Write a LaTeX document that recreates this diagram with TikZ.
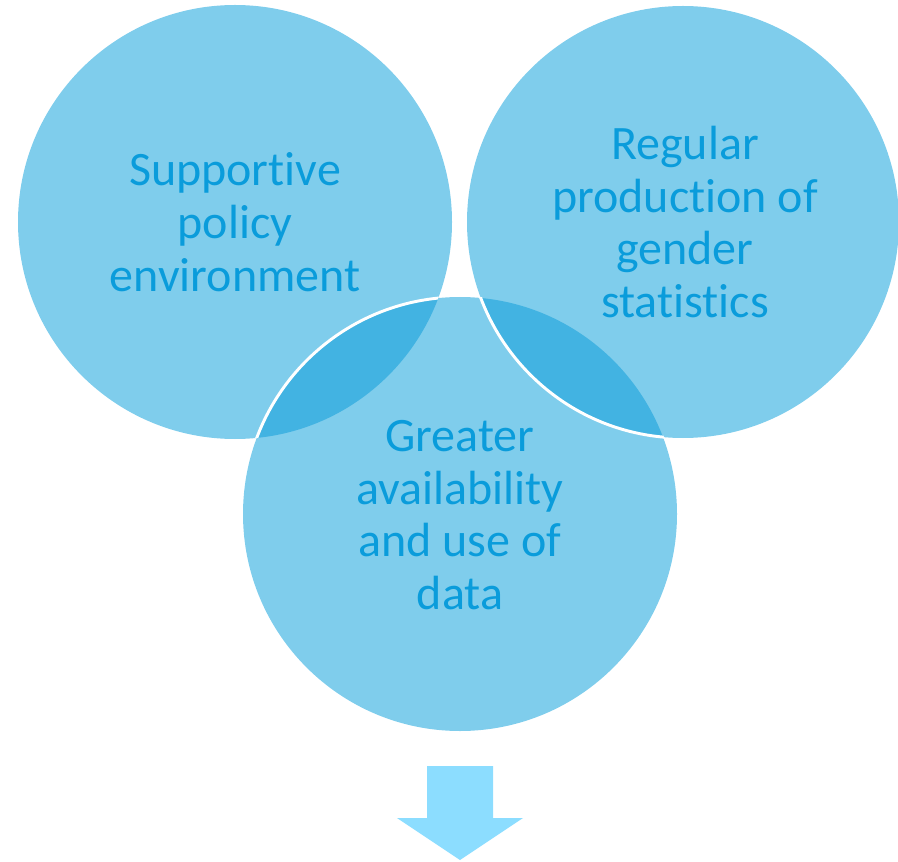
\documentclass[tikz,border=0pt]{standalone}
\usepackage{fontspec}
\setmainfont[Ligatures=NoCommon]{Carlito}
\usetikzlibrary{positioning}
\definecolor{circlefill}{HTML}{7FCDEC}
\definecolor{overlap}{HTML}{42B3E2}
\definecolor{ink}{HTML}{0A9CDB}
\definecolor{arrowfill}{HTML}{8CDDFF}
\tikzset{
  disc/.style={fill=circlefill, draw=none},
  ring/.style={draw=white, line width=2.2pt},
  lbl/.style={align=center, text=ink, font=\fontsize{36}{39.5}\selectfont}
}

\begin{document}
\begin{tikzpicture}[x=0.75pt,y=-0.75pt]
  \useasboundingbox (0,0) rectangle (898,862);
  % three circles
  \fill[disc] (235,222) circle (217);
  \fill[disc] (683,222) circle (216);
  \fill[disc] (460,514) circle (217);
  % darker overlaps
  \begin{scope}
    \clip (460,514) circle (217);
    \fill[overlap] (235,222) circle (217);
    \fill[overlap] (683,222) circle (216);
  \end{scope}
  % white edges over the overlaps
  \begin{scope}
    \clip (235,222) circle (217);
    \draw[ring] (460,514) circle (217);
  \end{scope}
  \begin{scope}
    \clip (460,514) circle (218);
    \draw[ring] (683,222) circle (216);
  \end{scope}
  \node[lbl] (pol) at (235,222) {Supportive\\policy\\environment};
  \node[lbl] (prod) at (685,222) {Regular\\production of\\gender\\statistics};
  \node[lbl] (data) at (460,515) {Greater\\availability\\and use of\\data};
  % down arrow
  \fill[arrowfill] (427,766) -- (493,766) -- (493,818) -- (523,818)
    -- (460,860) -- (397,818) -- (427,818) -- cycle;
\end{tikzpicture}
\end{document}
